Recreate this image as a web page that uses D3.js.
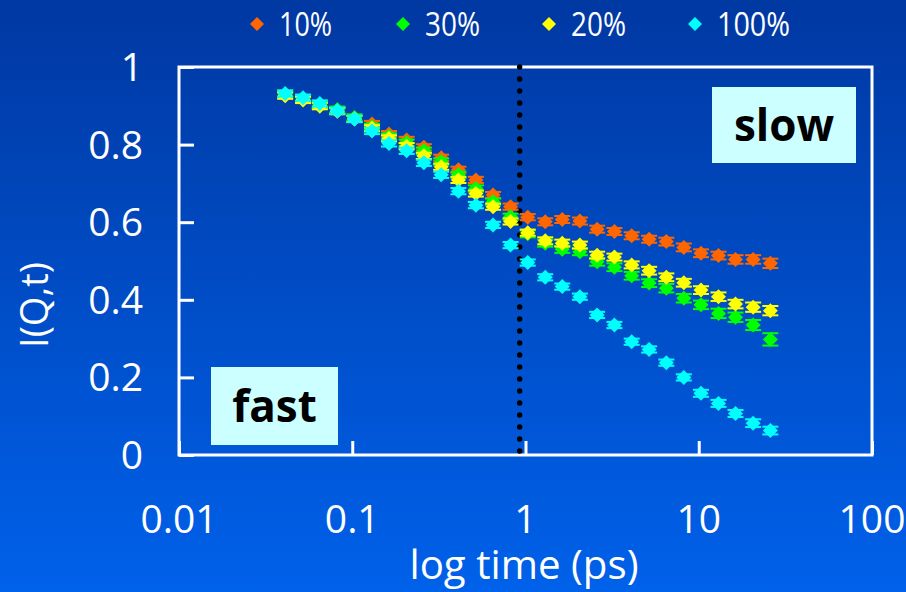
<!DOCTYPE html>
<html>
<head>
<meta charset="utf-8">
<script src="https://cdn.jsdelivr.net/npm/d3@7"></script>
<style>
  html, body { margin: 0; padding: 0; background: #0048c0; }
  svg { display: block; }
  text { font-family: "Open Sans", "Liberation Sans", Arial, sans-serif; }
</style>
</head>
<body>
<svg id="chart" width="906" height="592"></svg>
<script>
// Delay times (ps)
const times = [0.041, 0.052, 0.065, 0.082, 0.103, 0.13, 0.163, 0.206, 0.259, 0.326,
               0.41, 0.517, 0.65, 0.82, 1.03, 1.3, 1.63, 2.06, 2.59, 3.26,
               4.1, 5.17, 6.5, 8.2, 10.3, 13, 16.3, 20.6, 25.9];

// I(Q,t) for each concentration
const s10 = [0.930, 0.918, 0.903, 0.889, 0.868, 0.853, 0.827, 0.812, 0.793, 0.766,
             0.735, 0.709, 0.670, 0.640, 0.613, 0.601, 0.607, 0.603, 0.582, 0.576,
             0.565, 0.556, 0.550, 0.535, 0.520, 0.514, 0.504, 0.504, 0.494];
const s30 = [0.929, 0.917, 0.902, 0.890, 0.870, 0.846, 0.821, 0.805, 0.784, 0.756,
             0.722, 0.687, 0.653, 0.614, 0.570, 0.546, 0.530, 0.524, 0.498, 0.484,
             0.462, 0.443, 0.430, 0.404, 0.387, 0.365, 0.355, 0.335, 0.298];
const s20 = [0.926, 0.915, 0.899, 0.886, 0.866, 0.842, 0.816, 0.796, 0.771, 0.743,
             0.709, 0.674, 0.640, 0.602, 0.573, 0.552, 0.546, 0.541, 0.515, 0.510,
             0.490, 0.475, 0.458, 0.444, 0.425, 0.408, 0.389, 0.381, 0.372];
const s100 = [0.932, 0.921, 0.906, 0.887, 0.866, 0.835, 0.803, 0.784, 0.753, 0.722,
              0.680, 0.644, 0.593, 0.541, 0.496, 0.458, 0.434, 0.408, 0.361, 0.335,
              0.292, 0.272, 0.238, 0.200, 0.159, 0.133, 0.107, 0.082, 0.063];

// Error bar half-widths
const e10 = [0.008, 0.008, 0.008, 0.008, 0.008, 0.008, 0.008, 0.008, 0.008, 0.008,
             0.008, 0.008, 0.008, 0.008, 0.008, 0.009, 0.009, 0.009, 0.009, 0.009,
             0.009, 0.009, 0.010, 0.010, 0.010, 0.010, 0.011, 0.011, 0.012];
const e30 = [0.008, 0.008, 0.008, 0.008, 0.008, 0.008, 0.008, 0.008, 0.008, 0.008,
             0.008, 0.008, 0.008, 0.008, 0.009, 0.009, 0.009, 0.009, 0.010, 0.010,
             0.010, 0.010, 0.011, 0.011, 0.011, 0.012, 0.012, 0.013, 0.016];
const e20 = [0.008, 0.008, 0.008, 0.008, 0.008, 0.008, 0.008, 0.008, 0.008, 0.008,
             0.008, 0.008, 0.008, 0.008, 0.008, 0.009, 0.009, 0.009, 0.009, 0.009,
             0.009, 0.010, 0.010, 0.010, 0.010, 0.011, 0.011, 0.012, 0.012];
const e100 = [0.008, 0.008, 0.008, 0.008, 0.008, 0.008, 0.008, 0.008, 0.008, 0.008,
              0.008, 0.008, 0.008, 0.008, 0.008, 0.008, 0.008, 0.008, 0.008, 0.008,
              0.008, 0.008, 0.008, 0.008, 0.009, 0.009, 0.009, 0.010, 0.010];

const seriesNames = ["10%", "30%", "20%", "100%"];
const seriesColors = ["#ff6600", "#00ff00", "#ffff00", "#00ffff"];
const seriesValues = [s10, s30, s20, s100];
const seriesErrors = [e10, e30, e20, e100];

const xTicks = [0.01, 0.1, 1, 10, 100];
const xTickLabels = ["0.01", "0.1", "1", "10", "100"];
const yTicks = [0, 0.2, 0.4, 0.6, 0.8, 1];
const yTickLabels = ["0", "0.2", "0.4", "0.6", "0.8", "1"];
const boundaryTime = 0.925;   // fast / slow boundary

const svg = d3.select("#chart");
const W = 906, H = 592;

// background gradient
const defs = svg.append("defs");
const grad = defs.append("linearGradient").attr("id", "bg")
  .attr("x1", 0).attr("y1", 0).attr("x2", 0).attr("y2", 1);
grad.append("stop").attr("offset", "0%").attr("stop-color", "#0038a2");
grad.append("stop").attr("offset", "100%").attr("stop-color", "#0061ea");
svg.append("rect").attr("width", W).attr("height", H).attr("fill", "url(#bg)");

const plotL = 179, plotR = 872, plotT = 67, plotB = 455;
const x = d3.scaleLog().domain([0.01, 100]).range([plotL, plotR]);
const y = d3.scaleLinear().domain([0, 1]).range([plotB, plotT]);

// frame
svg.append("rect")
  .attr("x", plotL).attr("y", plotT)
  .attr("width", plotR - plotL).attr("height", plotB - plotT)
  .attr("fill", "none").attr("stroke", "#ffffff").attr("stroke-width", 3);

// ticks pointing inward
const yAxis = d3.axisRight(y).tickValues(yTicks).tickSize(15).tickFormat("");
const yg = svg.append("g").attr("transform", `translate(${plotL},0)`).call(yAxis);
const xAxis = d3.axisTop(x).tickValues(xTicks).tickSize(14).tickFormat("");
const xg = svg.append("g").attr("transform", `translate(0,${plotB})`).call(xAxis);
[yg, xg].forEach(g => {
  g.select(".domain").remove();
  g.selectAll(".tick line").attr("stroke", "#ffffff").attr("stroke-width", 3);
});

// tick labels
svg.append("g").selectAll("text").data(yTicks).join("text")
  .attr("x", 143).attr("y", d => y(d) + 14)
  .attr("text-anchor", "end").attr("fill", "#ffffff").attr("font-size", 39)
  .text((d, i) => yTickLabels[i]);
svg.append("g").selectAll("text").data(xTicks).join("text")
  .attr("x", d => x(d)).attr("y", 533)
  .attr("text-anchor", "middle").attr("fill", "#ffffff").attr("font-size", 39)
  .text((d, i) => xTickLabels[i]);

// axis titles
svg.append("text").attr("x", 524).attr("y", 579)
  .attr("text-anchor", "middle").attr("fill", "#ffffff").attr("font-size", 40)
  .attr("textLength", 229).attr("lengthAdjust", "spacingAndGlyphs")
  .text("log time (ps)");
svg.append("text")
  .attr("transform", "translate(48,305) rotate(-90)")
  .attr("text-anchor", "middle").attr("fill", "#ffffff").attr("font-size", 38)
  .text("I(Q,t)");

// regime labels
function regime(bx, by, bw, bh, label) {
  svg.append("rect").attr("x", bx).attr("y", by).attr("width", bw).attr("height", bh)
    .attr("fill", "#ccffff");
  svg.append("text").attr("x", bx + bw / 2).attr("y", by + bh / 2 + 16)
    .attr("text-anchor", "middle").attr("fill", "#000000")
    .attr("font-size", 44).attr("font-weight", "bold").text(label);
}
regime(712, 87, 144, 76, "slow");
regime(211, 367, 127, 78, "fast");

// dotted boundary
svg.append("line")
  .attr("x1", x(boundaryTime)).attr("x2", x(boundaryTime))
  .attr("y1", plotT).attr("y2", plotB)
  .attr("stroke", "#000000").attr("stroke-width", 5.5)
  .attr("stroke-linecap", "round").attr("stroke-dasharray", "0 12");

// data series
const diamond = "M0,-7.5L7.5,0L0,7.5L-7.5,0Z";
seriesValues.forEach((vals, si) => {
  const color = seriesColors[si];
  const errs = seriesErrors[si];
  const pts = times.map((t, i) => ({ t, v: vals[i], e: errs[i] }));
  const g = svg.append("g");
  const eb = g.selectAll("g.eb").data(pts).join("g").attr("class", "eb");
  eb.append("line")
    .attr("x1", d => x(d.t)).attr("x2", d => x(d.t))
    .attr("y1", d => y(d.v + d.e)).attr("y2", d => y(d.v - d.e))
    .attr("stroke", color).attr("stroke-width", 2);
  [1, -1].forEach(sgn => {
    eb.append("line")
      .attr("x1", d => x(d.t) - 8).attr("x2", d => x(d.t) + 8)
      .attr("y1", d => y(d.v + sgn * d.e)).attr("y2", d => y(d.v + sgn * d.e))
      .attr("stroke", color).attr("stroke-width", 2);
  });
  g.selectAll("path").data(pts).join("path")
    .attr("d", diamond)
    .attr("transform", d => `translate(${x(d.t)},${y(d.v)})`)
    .attr("fill", color);
});

// legend
const legendX = [257, 403, 549, 695];
const legendW = [53, 55, 55, 73];
const lg = svg.append("g");
seriesNames.forEach((name, i) => {
  lg.append("path").attr("d", "M0,-7L7,0L0,7L-7,0Z")
    .attr("transform", `translate(${legendX[i]},24)`).attr("fill", seriesColors[i]);
  lg.append("text").attr("x", legendX[i] + 22).attr("y", 36)
    .attr("fill", "#ffffff").attr("font-size", 33)
    .attr("textLength", legendW[i]).attr("lengthAdjust", "spacingAndGlyphs")
    .text(name);
});
</script>
</body>
</html>
